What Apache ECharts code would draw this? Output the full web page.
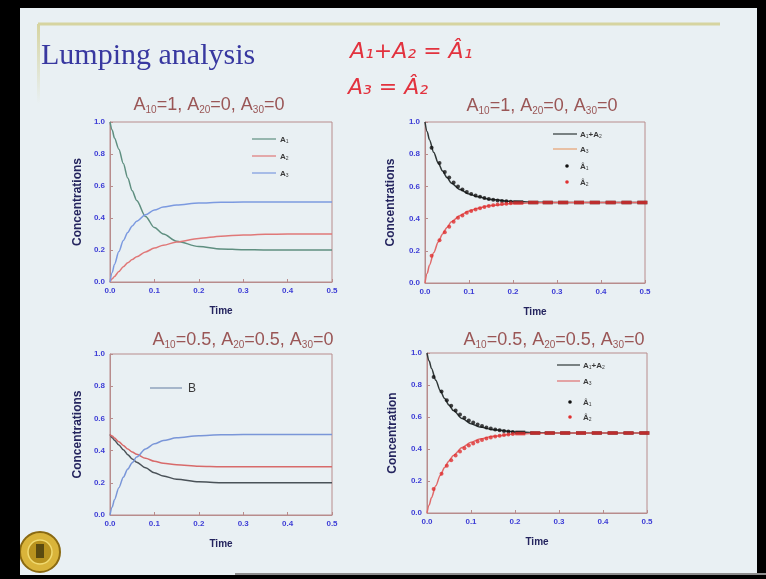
<!DOCTYPE html>
<html>
<head>
<meta charset="utf-8">
<script src="https://cdn.jsdelivr.net/npm/echarts@6/dist/echarts.min.js"></script>
<style>
html,body{margin:0;padding:0;background:#000;}
#chart{width:766px;height:579px;}
</style>
</head>
<body>
<div id="chart"></div>
<script>
// ---------- data ----------
const time = [0, 0.005, 0.01, 0.02, 0.03, 0.04, 0.05, 0.06, 0.08, 0.1, 0.12, 0.15, 0.2, 0.25, 0.3, 0.35, 0.4, 0.45, 0.5];

// top-left: A10=1, A20=0, A30=0
const p1A1 = [1.0, 0.95, 0.9, 0.83, 0.74, 0.65, 0.57, 0.51, 0.41, 0.34, 0.3, 0.255, 0.222, 0.207, 0.202, 0.2, 0.2, 0.2, 0.2];
const p1A2 = [0, 0.02, 0.035, 0.065, 0.095, 0.12, 0.14, 0.158, 0.188, 0.212, 0.23, 0.25, 0.272, 0.286, 0.294, 0.298, 0.3, 0.3, 0.3];
const p1A3 = [0, 0.06, 0.11, 0.19, 0.26, 0.31, 0.35, 0.38, 0.42, 0.45, 0.468, 0.482, 0.494, 0.498, 0.5, 0.5, 0.5, 0.5, 0.5];

// top-right: lumped
const p2Sum = [1.0, 0.94, 0.89, 0.81, 0.745, 0.695, 0.655, 0.62, 0.58, 0.553, 0.535, 0.518, 0.506, 0.502, 0.5, 0.5, 0.5, 0.5, 0.5];
const p2A3 = [0, 0.06, 0.11, 0.19, 0.255, 0.305, 0.345, 0.38, 0.42, 0.447, 0.465, 0.482, 0.494, 0.498, 0.5, 0.5, 0.5, 0.5, 0.5];

// bottom-left: A10=0.5, A20=0.5, A30=0
const p3A1 = [0.5, 0.48, 0.465, 0.435, 0.405, 0.375, 0.348, 0.328, 0.293, 0.262, 0.242, 0.222, 0.206, 0.201, 0.2, 0.2, 0.2, 0.2, 0.2];
const p3A2 = [0.5, 0.49, 0.478, 0.455, 0.432, 0.41, 0.392, 0.377, 0.352, 0.334, 0.322, 0.312, 0.303, 0.3, 0.3, 0.3, 0.3, 0.3, 0.3];
const p3A3 = [0, 0.05, 0.095, 0.17, 0.235, 0.285, 0.325, 0.36, 0.41, 0.442, 0.462, 0.48, 0.493, 0.498, 0.5, 0.5, 0.5, 0.5, 0.5];

// bottom-right: lumped
const p4Sum = [1.0, 0.95, 0.905, 0.83, 0.765, 0.715, 0.675, 0.64, 0.59, 0.558, 0.538, 0.52, 0.507, 0.502, 0.5, 0.5, 0.5, 0.5, 0.5];
const p4A3 = [0, 0.05, 0.095, 0.17, 0.235, 0.285, 0.325, 0.36, 0.41, 0.442, 0.462, 0.48, 0.493, 0.498, 0.5, 0.5, 0.5, 0.5, 0.5];

// lumped-model points (Â1, Â2)
const hatTime = [0.015, 0.033, 0.045, 0.055, 0.065, 0.075, 0.085, 0.095, 0.105, 0.115, 0.125, 0.135, 0.145, 0.155, 0.165, 0.175, 0.185, 0.195, 0.212, 0.246, 0.279, 0.314, 0.35, 0.386, 0.422, 0.458, 0.494];
const p2Hat1 = [0.84, 0.745, 0.69, 0.655, 0.625, 0.6, 0.58, 0.565, 0.553, 0.543, 0.535, 0.528, 0.522, 0.517, 0.513, 0.51, 0.507, 0.505, 0.503, 0.5, 0.5, 0.5, 0.5, 0.5, 0.5, 0.5, 0.5];
const p2Hat2 = [0.17, 0.265, 0.315, 0.35, 0.38, 0.405, 0.42, 0.437, 0.447, 0.457, 0.465, 0.472, 0.478, 0.483, 0.487, 0.49, 0.493, 0.495, 0.497, 0.5, 0.5, 0.5, 0.5, 0.5, 0.5, 0.5, 0.5];
const p4Hat1 = [0.85, 0.76, 0.705, 0.67, 0.64, 0.615, 0.595, 0.578, 0.565, 0.553, 0.543, 0.535, 0.528, 0.522, 0.517, 0.513, 0.51, 0.507, 0.504, 0.5, 0.5, 0.5, 0.5, 0.5, 0.5, 0.5, 0.5];
const p4Hat2 = [0.15, 0.245, 0.295, 0.33, 0.36, 0.385, 0.405, 0.422, 0.435, 0.447, 0.457, 0.465, 0.472, 0.478, 0.483, 0.487, 0.49, 0.493, 0.496, 0.5, 0.5, 0.5, 0.5, 0.5, 0.5, 0.5, 0.5];

const plotTitles = [
  'A{s|10}=1, A{s|20}=0, A{s|30}=0',
  'A{s|10}=1, A{s|20}=0, A{s|30}=0',
  'A{s|10}=0.5, A{s|20}=0.5, A{s|30}=0',
  'A{s|10}=0.5, A{s|20}=0.5, A{s|30}=0'
];
const yNames = ['Concentrations', 'Concentrations', 'Concentrations', 'Concentration'];
const xName = 'Time';

// ---------- styling / layout ----------
const grids = [
  {left: 110, top: 122, width: 222, height: 160},
  {left: 425, top: 122, width: 220, height: 161},
  {left: 110, top: 354, width: 222, height: 161},
  {left: 427, top: 353, width: 220, height: 160}
];
const frameColor = '#b88c8c';
const tickBlue = '#3d3dd6';
const navy = '#24245e';

const pairs = (xs, ys) => xs.map((x, i) => [x, ys[i]]);

function lineSeries(idx, ys, color, w) {
  return {
    type: 'line', xAxisIndex: idx, yAxisIndex: idx,
    data: pairs(time, ys), showSymbol: false, smooth: 0.3, smoothMonotone: 'x',
    lineStyle: {color: color, width: w || 1.5}, silent: true, z: 2
  };
}
function hatSeries(idx, ys, color) {
  return {
    type: 'scatter', xAxisIndex: idx, yAxisIndex: idx, silent: true, z: 3,
    data: pairs(hatTime, ys).map(p => p[0] >= 0.2
      ? {value: p, symbol: 'rect', symbolSize: [10, 3.5]}
      : {value: p, symbol: 'circle', symbolSize: 4}),
    itemStyle: {color: color}
  };
}

const xAxes = grids.map((g, i) => ({
  gridIndex: i, type: 'value', min: 0, max: 0.5, interval: 0.1,
  axisLine: {show: true, lineStyle: {color: frameColor}},
  axisTick: {show: true, inside: true, length: 3, lineStyle: {color: frameColor}},
  splitLine: {show: false},
  axisLabel: {color: tickBlue, fontSize: 8, fontWeight: 'bold', margin: 5, formatter: v => v.toFixed(1)},
  name: xName, nameLocation: 'middle', nameGap: 24,
  nameTextStyle: {color: navy, fontSize: 10, fontWeight: 'bold', fontFamily: 'Liberation Sans'}
}));
const yAxes = grids.map((g, i) => ({
  gridIndex: i, type: 'value', min: 0, max: 1, interval: 0.2,
  axisLine: {show: true, lineStyle: {color: frameColor}},
  axisTick: {show: true, inside: true, length: 3, lineStyle: {color: frameColor}},
  splitLine: {show: false},
  axisLabel: {color: tickBlue, fontSize: 8, fontWeight: 'bold', margin: 5, formatter: v => v.toFixed(1)},
  name: yNames[i], nameLocation: 'middle', nameGap: i % 2 ? 28 : 26,
  nameTextStyle: {color: navy, fontSize: 12, fontWeight: 'bold', fontFamily: 'Liberation Sans'}
}));

const titleRich = {s: {fontSize: 10, padding: [10, 0, 0, 0], fill: '#9a5656', fontFamily: 'Liberation Sans'}};
const titlePos = [[209, 105], [542, 106], [243, 340], [554, 340]];

function legLine(x1, x2, y, color) {
  return {type: 'line', shape: {x1: x1, y1: y, x2: x2, y2: y}, style: {stroke: color, lineWidth: 1.2}, z: 10};
}
function legText(x, y, txt, size) {
  return {type: 'text', x: x, y: y, z: 10, style: {
    text: txt, fontSize: size || 8, fill: '#3a3a3a', fontFamily: 'Liberation Sans', fontWeight: 'bold',
    verticalAlign: 'middle', rich: {s: {fontSize: 5, padding: [4, 0, 0, 0], fill: '#3a3a3a'}}
  }};
}
function legDot(x, y, color) {
  return {type: 'circle', shape: {cx: x, cy: y, r: 1.8}, style: {fill: color}, z: 10};
}

const graphics = [
  // slide background
  {type: 'rect', shape: {x: 20, y: 8, width: 737, height: 567}, style: {fill: '#e9f0f3'}, z: -10},
  // decoration lines
  {type: 'line', shape: {x1: 38, y1: 24, x2: 720, y2: 24}, style: {stroke: '#d6d4a0', lineWidth: 3}, z: -5},
  {type: 'rect', shape: {x: 37, y: 24, width: 3, height: 80},
   style: {fill: new echarts.graphic.LinearGradient(0, 0, 0, 1, [{offset: 0, color: '#d6d4a0'}, {offset: 1, color: 'rgba(214,212,160,0)'}])}, z: -5},
  // slide title
  {type: 'text', x: 41, y: 56, style: {text: 'Lumping analysis', fontSize: 30, fill: '#3838a0',
    fontFamily: 'Liberation Serif', verticalAlign: 'middle'}},
  // handwriting
  {type: 'text', x: 350, y: 52, style: {text: 'A\u2081+A\u2082 = \u00C2\u2081', fontSize: 22, fill: '#e2323e',
    fontFamily: 'DejaVu Sans', fontStyle: 'italic', verticalAlign: 'middle'}},
  {type: 'text', x: 348, y: 88, style: {text: 'A\u2083 = \u00C2\u2082', fontSize: 22, fill: '#e2323e',
    fontFamily: 'DejaVu Sans', fontStyle: 'italic', verticalAlign: 'middle'}},
  // legends
  legLine(252, 276, 139, '#5f8f80'), legText(280, 140, 'A{s|1}'),
  legLine(252, 276, 156, '#e07878'), legText(280, 157, 'A{s|2}'),
  legLine(252, 276, 173, '#7c9ae0'), legText(280, 174, 'A{s|3}'),

  legLine(553, 577, 134, '#303838'), legText(580, 135, 'A{s|1}+A{s|2}'),
  legLine(553, 577, 149, '#e8a070'), legText(580, 150, 'A{s|3}'),
  legDot(567, 166, '#111'), legText(580, 167, '\u00C2{s|1}'),
  legDot(567, 182, '#e03030'), legText(580, 183, '\u00C2{s|2}'),

  legLine(557, 580, 365, '#303838'), legText(583, 366, 'A{s|1}+A{s|2}'),
  legLine(557, 580, 381, '#e07070'), legText(583, 382, 'A{s|3}'),
  legDot(570, 402, '#111'), legText(583, 403, '\u00C2{s|1}'),
  legDot(570, 417, '#e03030'), legText(583, 418, '\u00C2{s|2}'),

  legLine(150, 182, 388, '#7a90b0'),
  {type: 'text', x: 188, y: 389, style: {text: 'B', fontSize: 12, fill: '#3a3a3a', fontFamily: 'Liberation Sans', verticalAlign: 'middle'}},

  // logo
  {type: 'circle', shape: {cx: 40, cy: 552, r: 20}, style: {fill: '#d9b43a', stroke: '#8a6a12', lineWidth: 2}, z: 5},
  {type: 'circle', shape: {cx: 40, cy: 552, r: 12}, style: {fill: '#b8921e', stroke: '#f0da70', lineWidth: 1.5}, z: 6},
  {type: 'rect', shape: {x: 36, y: 544, width: 8, height: 14}, style: {fill: '#5a4a10'}, z: 7},
  // left black border overlapping logo
  {type: 'rect', shape: {x: 0, y: 0, width: 20, height: 579}, style: {fill: '#000'}, z: 8},
  // bottom line
  {type: 'line', shape: {x1: 235, y1: 574, x2: 766, y2: 574}, style: {stroke: '#8e8e8e', lineWidth: 2}, z: 8}
];

plotTitles.forEach((t, i) => {
  graphics.push({type: 'text', x: titlePos[i][0], y: titlePos[i][1], z: 10, style: {
    text: t, fontSize: 18, fill: '#9a5656', fontFamily: 'Liberation Sans', align: 'center', verticalAlign: 'middle',
    rich: titleRich
  }});
});

const chart = echarts.init(document.getElementById('chart'), null, {renderer: 'canvas'});
chart.setOption({
  backgroundColor: '#000',
  animation: false,
  grid: grids.map(g => Object.assign({show: true, borderColor: frameColor, borderWidth: 1, backgroundColor: 'transparent'}, g)),
  xAxis: xAxes,
  yAxis: yAxes,
  graphic: graphics,
  series: [
    lineSeries(0, p1A1, '#5f8f80'),
    lineSeries(0, p1A2, '#e07878'),
    lineSeries(0, p1A3, '#7c9ae0'),

    lineSeries(1, p2Sum, '#303838'),
    lineSeries(1, p2A3, '#e06a6a'),
    hatSeries(1, p2Hat1, '#111111'),
    hatSeries(1, p2Hat2, '#e03030'),

    lineSeries(2, p3A1, '#4a5258'),
    lineSeries(2, p3A2, '#d86a6a'),
    lineSeries(2, p3A3, '#7a96d8'),

    lineSeries(3, p4Sum, '#303838'),
    lineSeries(3, p4A3, '#e06a6a'),
    hatSeries(3, p4Hat1, '#111111'),
    hatSeries(3, p4Hat2, '#e03030')
  ]
});
</script>
</body>
</html>
